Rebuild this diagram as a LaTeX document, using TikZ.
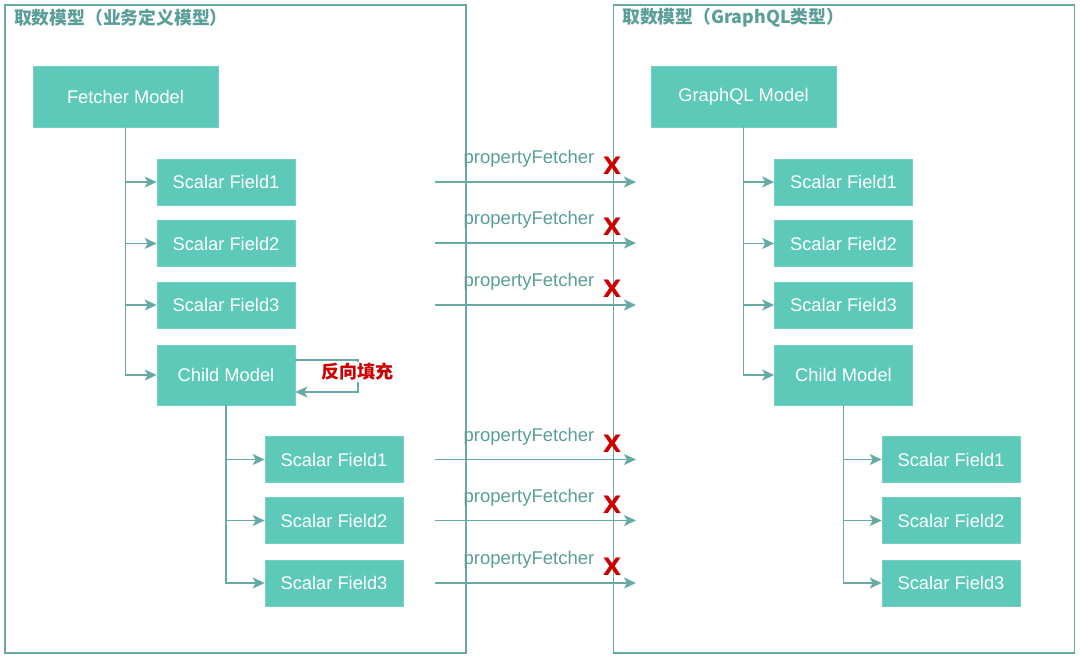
\documentclass[tikz,border=0pt]{standalone}
\usepackage{fontspec}
\setmainfont{Liberation Sans}
\newfontfamily\cjk{Noto Sans CJK SC}
\newfontfamily\xfont{DejaVu Sans}
\usetikzlibrary{arrows.meta,calc}
\definecolor{boxfill}{HTML}{5DC9B8}
\definecolor{linec}{HTML}{67A9A5}
\definecolor{titlec}{HTML}{5A9E98}
\definecolor{redx}{HTML}{CC0000}
\begin{document}
\begin{tikzpicture}[x=1pt,y=-1pt,
  box/.style={fill=boxfill, draw=boxfill!85!white, line width=0.6pt, text=white,
    font=\fontsize{18.3}{21}\selectfont, inner sep=0pt},
  bigbox/.style={box, minimum width=185pt, minimum height=61pt},
  fieldbox/.style={box, minimum width=138pt, minimum height=46pt},
  childbox/.style={box, minimum width=138pt, minimum height=60pt},
  panel/.style={draw=linec, line width=1.3pt, minimum width=461pt, minimum height=648pt, inner sep=0pt},
  conn/.style={draw=linec, line width=1.5pt, -{Stealth[length=12pt,width=11pt,inset=3pt]}},
  ptitle/.style={text=titlec, font=\cjk\bfseries\fontsize{17.8}{20}\selectfont, anchor=west, inner sep=0pt},
  plabel/.style={text=titlec, font=\fontsize{18.5}{21}\selectfont, inner sep=0pt},
  xmark/.style={text=redx, font=\xfont\bfseries\fontsize{24}{26}\selectfont, inner sep=0pt},
  redlabel/.style={text=redx, fill=white, font=\cjk\bfseries\fontsize{18}{20}\selectfont, inner sep=1pt}
]
\useasboundingbox (0,0) rectangle (1080,656);
% panels
\node[panel] (lp) at (235.5,329) {};
\node[panel] (rp) at (844,329) {};
\node[ptitle] (lt) at (14,18) {取数模型（业务定义模型）};
\node[ptitle] (rt) at (622,18) {取数模型（GraphQL类型）};
% left boxes
\node[bigbox] (fm) at (125.5,96.5) {Fetcher Model};
\node[fieldbox] (l1) at (226,182) {Scalar Field1};
\node[fieldbox] (l2) at (226,243.5) {Scalar Field2};
\node[fieldbox] (l3) at (226,305) {Scalar Field3};
\node[childbox] (lc) at (226,375) {Child Model};
\node[fieldbox] (lc1) at (334,459.5) {Scalar Field1};
\node[fieldbox] (lc2) at (334,520.5) {Scalar Field2};
\node[fieldbox] (lc3) at (334,583) {Scalar Field3};
% right boxes
\node[bigbox] (gm) at (743.5,96.5) {GraphQL Model};
\node[fieldbox] (r1) at (843.5,182) {Scalar Field1};
\node[fieldbox] (r2) at (843.5,243.5) {Scalar Field2};
\node[fieldbox] (r3) at (843.5,305) {Scalar Field3};
\node[childbox] (rc) at (843.5,375) {Child Model};
\node[fieldbox] (rc1) at (951,459.5) {Scalar Field1};
\node[fieldbox] (rc2) at (951,520.5) {Scalar Field2};
\node[fieldbox] (rc3) at (951,583) {Scalar Field3};
% tree connectors
\foreach \t in {l1,l2,l3,lc} \draw[conn] (fm.south) |- (\t.west);
\foreach \t in {lc1,lc2,lc3} \draw[conn] (lc.south) |- (\t.west);
\foreach \t in {r1,r2,r3,rc} \draw[conn] (gm.south) |- (\t.west);
\foreach \t in {rc1,rc2,rc3} \draw[conn] (rc.south) |- (\t.west);
% property fetcher arrows
\foreach \i/\y in {1/182,2/243,3/305,4/459.5,5/520.5,6/583}{
  \coordinate (s\i) at (435,\y);
  \coordinate (e\i) at (636,\y);
  \draw[conn] (s\i) -- (e\i);
  \node[plabel] (pl\i) at (529,\y-23) {propertyFetcher};
  \node[xmark] (x\i) at (612,\y-16) {X};
}
% reverse fill loop
\coordinate (rs) at ($(lc.east)+(0,-15)$);
\coordinate (ra) at (358,360);
\coordinate (rb) at (358,392);
\coordinate (re) at ($(lc.east)+(0,17)$);
\draw[conn] (rs) -- (ra) -- (rb) -- (re);
\node[redlabel] (rl) at (357.5,372) {反向填充};
\end{tikzpicture}
\end{document}
